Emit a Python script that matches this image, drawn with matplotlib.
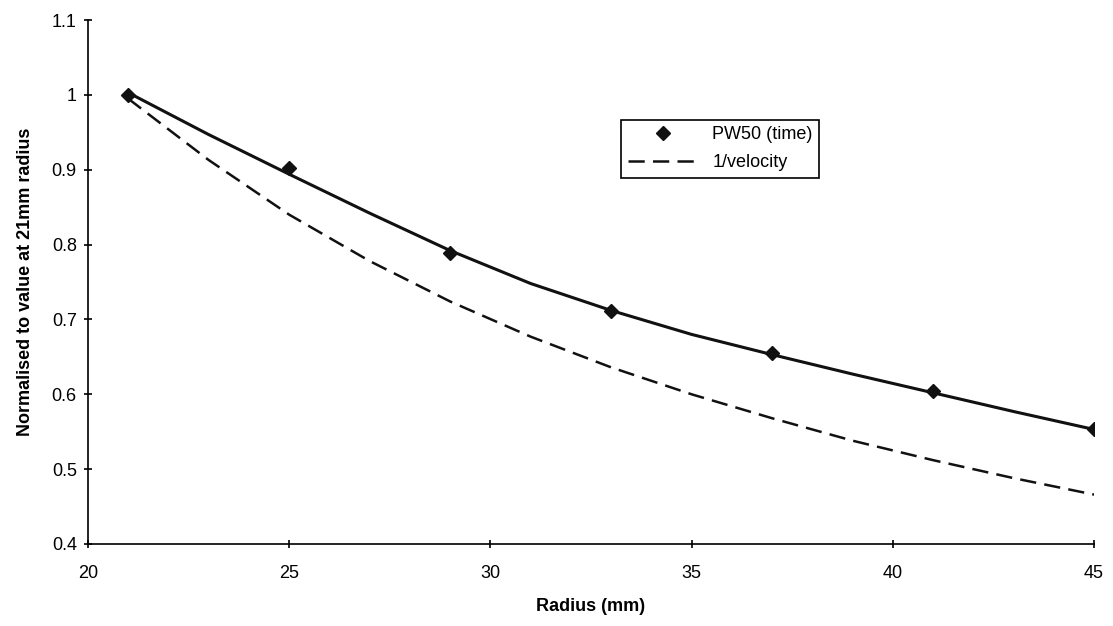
import matplotlib.pyplot as plt

plt.rcParams['font.family'] = ['Liberation Sans', 'DejaVu Sans']

# measured PW50 values, normalised to 21 mm
radius = [21, 25, 29, 33, 37, 41, 45]
pw50 = [1.0, 0.902, 0.789, 0.711, 0.655, 0.604, 0.554]

# fitted curve through PW50 values
fit_r = [21, 23, 25, 27, 29, 31, 33, 35, 37, 39, 41, 43, 45]
fit_pw50 = [1.003, 0.947, 0.894, 0.842, 0.792, 0.748, 0.712, 0.680, 0.653, 0.627, 0.602, 0.577, 0.553]

# 1/velocity curve
inv_vel = [0.995, 0.913, 0.840, 0.778, 0.724, 0.677, 0.636, 0.600, 0.568, 0.538, 0.512, 0.488, 0.466]

fig = plt.figure(figsize=(11.13, 6.26), dpi=100)
ax = fig.add_axes([0.079, 0.131, 0.904, 0.837])

ax.plot(fit_r, fit_pw50, color='#111111', lw=2.2)
ax.plot(radius, pw50, linestyle='none', marker='D', ms=7.5, color='#111111', label='PW50 (time)')
ax.plot(fit_r, inv_vel, color='#111111', lw=1.8, dashes=(6.5, 3.3), label='1/velocity')

ax.set_xlim(20, 45)
ax.set_ylim(0.4, 1.1)
ax.set_xticks([20, 25, 30, 35, 40, 45])
ax.set_yticks([0.4, 0.5, 0.6, 0.7, 0.8, 0.9, 1.0, 1.1])
ax.set_yticklabels(['0.4', '0.5', '0.6', '0.7', '0.8', '0.9', '1', '1.1'])
ax.tick_params(direction='inout', length=6, width=1.2, labelsize=13)
ax.tick_params(axis='x', pad=12)
ax.tick_params(axis='y', pad=5)

for side in ['top', 'right']:
    ax.spines[side].set_visible(False)
for side in ['left', 'bottom']:
    ax.spines[side].set_linewidth(1.2)

ax.set_xlabel('Radius (mm)', fontsize=13, fontweight='bold', labelpad=12)
ax.set_ylabel('Normalised to value at 21mm radius', fontsize=13, fontweight='bold', labelpad=13)

leg = ax.legend(loc='upper left', bbox_to_anchor=(0.530, 0.809), fontsize=13,
                handlelength=3.9, handletextpad=0.8, fancybox=False, framealpha=1,
                borderpad=0.35, borderaxespad=0, labelspacing=0.6)
leg.get_frame().set_edgecolor('black')
leg.get_frame().set_linewidth(1.2)

fig.savefig('out.png', dpi=100)
